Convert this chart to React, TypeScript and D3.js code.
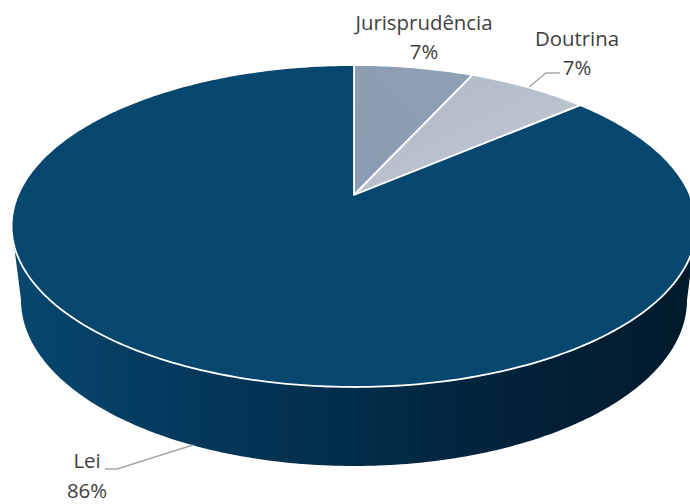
import React from 'react';
import * as d3 from 'd3';

const categories = ['Lei', 'Jurisprudência', 'Doutrina'];
const values = [86.3, 6.8, 6.9];
const labels = ['86%', '7%', '7%'];
const fills = ['#05476f', 'url(#jurisGrad)', 'url(#doutGrad)'];

const width = 690;
const height = 504;

// perspective of the tilted disc
const cx = 354;
const apexY = 195;
const spreadX = 336;
const spreadY = 117.5;
const tilt = -0.1925;

// lower rim of the disc
const rimCy = 300;
const rimRx = 333;
const rimRy = 166;

const project = (a: number): [number, number] => {
    const u = Math.sin(a);
    const v = -Math.cos(a);
    const w = 1 + tilt * v;
    return [cx + (spreadX * u) / w, (spreadY * v + apexY) / w];
};

const line = d3.line();

const steps = (a0: number, a1: number) => {
    const n = Math.max(2, Math.ceil(Math.abs(a1 - a0) * 60));
    return d3.range(n + 1).map((i) => a0 + ((a1 - a0) * i) / n);
};

export default function App() {
    // clockwise from 12 o'clock: Jurisprudência, Doutrina, then Lei
    const order = [1, 2, 0];
    const pie = d3.pie<number>().sort(null).value((i) => values[i]);
    const arcs = pie(order);

    const slicePath = (a0: number, a1: number) =>
        line([[cx, apexY], ...steps(a0, a1).map(project)]) + 'Z';

    // front wall: top rim between its widest points, then the lower rim back
    const widest = Math.acos(tilt);
    const topFront = steps(widest, 2 * Math.PI - widest).map(project);
    const lowFront = steps(Math.PI, 2 * Math.PI).map((a): [number, number] => [
        cx + rimRx * Math.cos(a),
        rimCy - rimRy * Math.sin(a),
    ]);
    const wall = line([...topFront, ...lowFront]) + 'Z';

    const textStyle = { fontFamily: '"Open Sans", sans-serif', fontSize: 20.4, fill: '#404040' };

    return (
        <svg width={width} height={height} style={{ position: 'absolute', left: 0, top: 0 }}>
            <defs>
                <linearGradient id="wallGrad" x1="0" x2="1" y1="0" y2="0">
                    <stop offset="0" stopColor="#064770" />
                    <stop offset="0.25" stopColor="#04395c" />
                    <stop offset="0.5" stopColor="#022d4a" />
                    <stop offset="0.75" stopColor="#012138" />
                    <stop offset="1" stopColor="#011a2b" />
                </linearGradient>
                <linearGradient id="jurisGrad" x1="0" x2="1" y1="1" y2="0">
                    <stop offset="0" stopColor="#8b9cb2" />
                    <stop offset="1" stopColor="#8fa0b5" />
                </linearGradient>
                <linearGradient id="doutGrad" x1="0" x2="1" y1="0" y2="1">
                    <stop offset="0" stopColor="#aeb7c6" />
                    <stop offset="1" stopColor="#c4cad4" />
                </linearGradient>
            </defs>
            <path d={wall} fill="url(#wallGrad)" />
            {arcs.map((d) => (
                <path
                    key={d.data}
                    d={slicePath(d.startAngle, d.endAngle)}
                    fill={fills[d.data]}
                    stroke="#fff"
                    strokeWidth={1.8}
                    strokeLinejoin="round"
                />
            ))}
            <path d={line([[529, 87], [546, 73], [560, 73]]) as string} fill="none" stroke="#a6a6a6" strokeWidth={1.5} />
            <path d={line([[193, 445], [117, 469], [105, 469]]) as string} fill="none" stroke="#a6a6a6" strokeWidth={1.5} />
            <g textAnchor="middle" style={textStyle}>
                <text x={424} y={30}>{categories[1]}</text>
                <text x={424} y={59}>{labels[1]}</text>
                <text x={577} y={46}>{categories[2]}</text>
                <text x={577} y={75}>{labels[2]}</text>
                <text x={87} y={468}>{categories[0]}</text>
                <text x={87} y={498}>{labels[0]}</text>
            </g>
        </svg>
    );
}
